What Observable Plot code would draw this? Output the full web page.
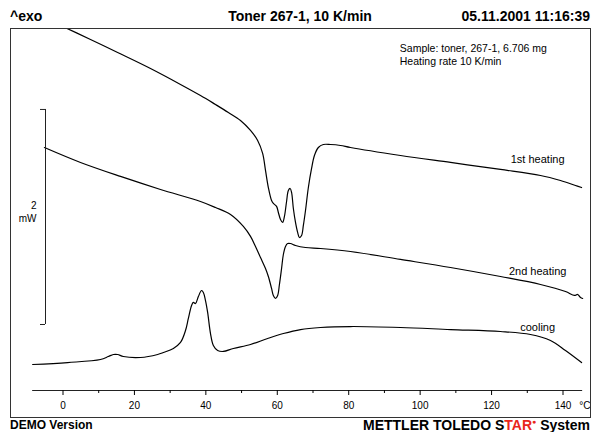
<!DOCTYPE html>
<html><head><meta charset="utf-8">
<script src="https://cdn.jsdelivr.net/npm/d3@7"></script>
<script src="https://cdn.jsdelivr.net/npm/@observablehq/plot@0.6"></script>
<style>
body{margin:0;background:#fff;font-family:"Liberation Sans",Arial,sans-serif;}
#wrap{position:relative;width:593px;height:432px;overflow:hidden;background:#fff;}
#chart{position:absolute;left:0;top:0;}
#box{position:absolute;left:10px;top:28px;width:581px;height:390px;box-sizing:border-box;border:1px solid #333;pointer-events:none;}
.hdr{position:absolute;font-weight:bold;font-size:14px;white-space:nowrap;line-height:1;color:#000;}
.red{color:#e8261c;}
.dot{font-size:7px;position:relative;top:-6px;line-height:0;}
</style></head><body>
<div id="wrap">
  <div id="chart"></div>
  <div id="box"></div>
  <div class="hdr" style="left:10px;top:9px">^exo</div>
  <div class="hdr" style="left:300px;top:9px;transform:translateX(-50%)">Toner 267-1, 10 K/min</div>
  <div class="hdr" style="right:3px;top:9px">05.11.2001 11:16:39</div>
  <div class="hdr" style="left:10px;top:419px;font-size:12px">DEMO Version</div>
  <div class="hdr" style="right:3px;top:418px">METTLER TOLEDO S<span class="red">TAR</span><span class="red dot">&#9679;</span> System</div>
</div>
<script>
// Temperatures in °C, heat flow in mW (arbitrary offset per curve)
const firstT  = [-1.3, 7.7, 15.3, 24.5, 32.9, 38.5, 42.7, 46.3, 49.7, 52.5, 54.5, 55.9, 56.7, 57.5, 58.4, 58.9, 59.8, 60.3, 60.9, 61.5, 62.0, 62.6, 63.1, 63.6, 64.0, 64.5, 65.1, 65.7, 66.2, 66.8, 67.3, 67.9, 68.7, 69.6, 70.4, 71.5, 72.9, 74.9, 77.7, 80.5, 94.5, 108.5, 122.5, 133.7, 139.3, 143.5, 145.2];
const firstMW = [3.405, 3.265, 3.144, 2.995, 2.847, 2.744, 2.660, 2.586, 2.512, 2.419, 2.326, 2.205, 2.047, 1.888, 1.767, 1.740, 1.712, 1.656, 1.591, 1.563, 1.619, 1.758, 1.860, 1.879, 1.842, 1.693, 1.563, 1.470, 1.423, 1.442, 1.535, 1.674, 1.888, 2.065, 2.186, 2.260, 2.288, 2.288, 2.279, 2.260, 2.186, 2.121, 2.056, 2.000, 1.953, 1.907, 1.888];

const secondT  = [-5.2, 4.9, 16.1, 27.3, 38.5, 42.7, 46.9, 50.5, 52.5, 53.9, 55.3, 56.7, 57.5, 58.4, 58.9, 59.5, 60.1, 60.6, 61.2, 61.7, 62.3, 62.9, 63.7, 65.1, 67.9, 72.1, 80.5, 94.5, 108.5, 122.5, 133.7, 140.7, 143.2, 144.1, 144.9, 145.5];
const secondMW = [2.260, 2.121, 1.991, 1.870, 1.758, 1.702, 1.637, 1.526, 1.433, 1.340, 1.237, 1.135, 1.060, 0.949, 0.884, 0.856, 0.884, 0.986, 1.135, 1.265, 1.340, 1.367, 1.367, 1.349, 1.330, 1.321, 1.293, 1.219, 1.144, 1.060, 0.986, 0.921, 0.884, 0.893, 0.865, 0.856];

const coolT  = [-8.5, 1.3, 10.5, 12.7, 14.1, 15.3, 16.9, 21.7, 26.5, 28.1, 30.9, 32.9, 34.3, 35.1, 36.0, 36.5, 37.1, 37.9, 38.8, 39.3, 39.9, 40.5, 41.3, 42.1, 43.3, 44.9, 47.7, 52.5, 57.3, 61.7, 66.5, 72.1, 80.5, 94.5, 108.5, 122.5, 130.9, 136.5, 140.7, 145.2];
const coolMW = [0.242, 0.260, 0.288, 0.316, 0.335, 0.335, 0.316, 0.307, 0.335, 0.353, 0.391, 0.447, 0.558, 0.670, 0.791, 0.819, 0.809, 0.874, 0.930, 0.912, 0.837, 0.726, 0.530, 0.419, 0.372, 0.363, 0.391, 0.428, 0.484, 0.530, 0.567, 0.586, 0.595, 0.586, 0.567, 0.549, 0.521, 0.465, 0.372, 0.260];

const majorTicks = [0, 20, 40, 60, 80, 100, 120, 140];
const minorTicks = [10, 30, 50, 70, 90, 110, 130];

const curveNames = ["1st heating", "2nd heating", "cooling"];
const curveLabelT = [132.9, 132.9, 132.9];
const curveLabelMW = [2.15, 1.11, 0.59];

const infoLines = ["Sample: toner, 267-1, 6.706 mg", "Heating rate 10 K/min"];
const infoT = [94.3, 94.3];
const infoMW = [3.18, 3.06];

const scaleBarT = -4.9, scaleBarTickT = -6.3;
const scaleBarMW = [0.614, 2.614];          // 2 mW span
const scaleLabels = ["2", "mW"];
const scaleLabelMW = [1.72, 1.60];

const tMin = d3.min([...firstT, ...secondT, ...coolT].filter(t => t > -9));
const tMax = d3.max([...firstT, ...secondT, ...coolT]);

const font = "'Liberation Sans', Arial, sans-serif";
const plot = Plot.plot({
  width: 593, height: 432,
  marginLeft: 10, marginRight: 3, marginTop: 28, marginBottom: 42,
  x: {domain: [-14.7, 147.7]},
  y: {domain: [0, 3.367], axis: null},
  style: {fontFamily: font, background: "transparent", color: "#000"},
  marks: [
    Plot.ruleY([0], {x1: tMin, x2: tMax, stroke: "#222", strokeWidth: 1}),
    Plot.axisX({ticks: majorTicks, tickSize: 5, tickPadding: 6, fontSize: 10, tickFormat: d => String(d),
                label: "°C", labelAnchor: "right", labelArrow: "none", labelOffset: 18}),
    Plot.axisX({ticks: minorTicks, tickSize: 3, tickFormat: () => "", label: null}),
    Plot.line(firstMW, {x: firstT, y: firstMW, curve: "catmull-rom", stroke: "#000", strokeWidth: 1.2, clip: true}),
    Plot.line(secondMW, {x: secondT, y: secondMW, curve: "catmull-rom", stroke: "#000", strokeWidth: 1.2, clip: true}),
    Plot.line(coolMW, {x: coolT, y: coolMW, curve: "catmull-rom", stroke: "#000", strokeWidth: 1.2, clip: true}),
    Plot.text(curveNames, {x: curveLabelT, y: curveLabelMW, text: curveNames, fontSize: 11, fill: "#000"}),
    Plot.text(infoLines, {x: infoT, y: infoMW, text: infoLines, textAnchor: "start", fontSize: 10.5, fill: "#000"}),
    Plot.ruleX([scaleBarT], {y1: scaleBarMW[0], y2: scaleBarMW[1], stroke: "#222"}),
    Plot.ruleY(scaleBarMW, {x1: scaleBarTickT, x2: scaleBarT, stroke: "#222"}),
    Plot.text(scaleLabels, {x: [-7.4, -7.4], y: scaleLabelMW, text: scaleLabels, textAnchor: "end", fontSize: 10, fill: "#000"})
  ]
});
document.getElementById("chart").appendChild(plot);
</script>
</body></html>
